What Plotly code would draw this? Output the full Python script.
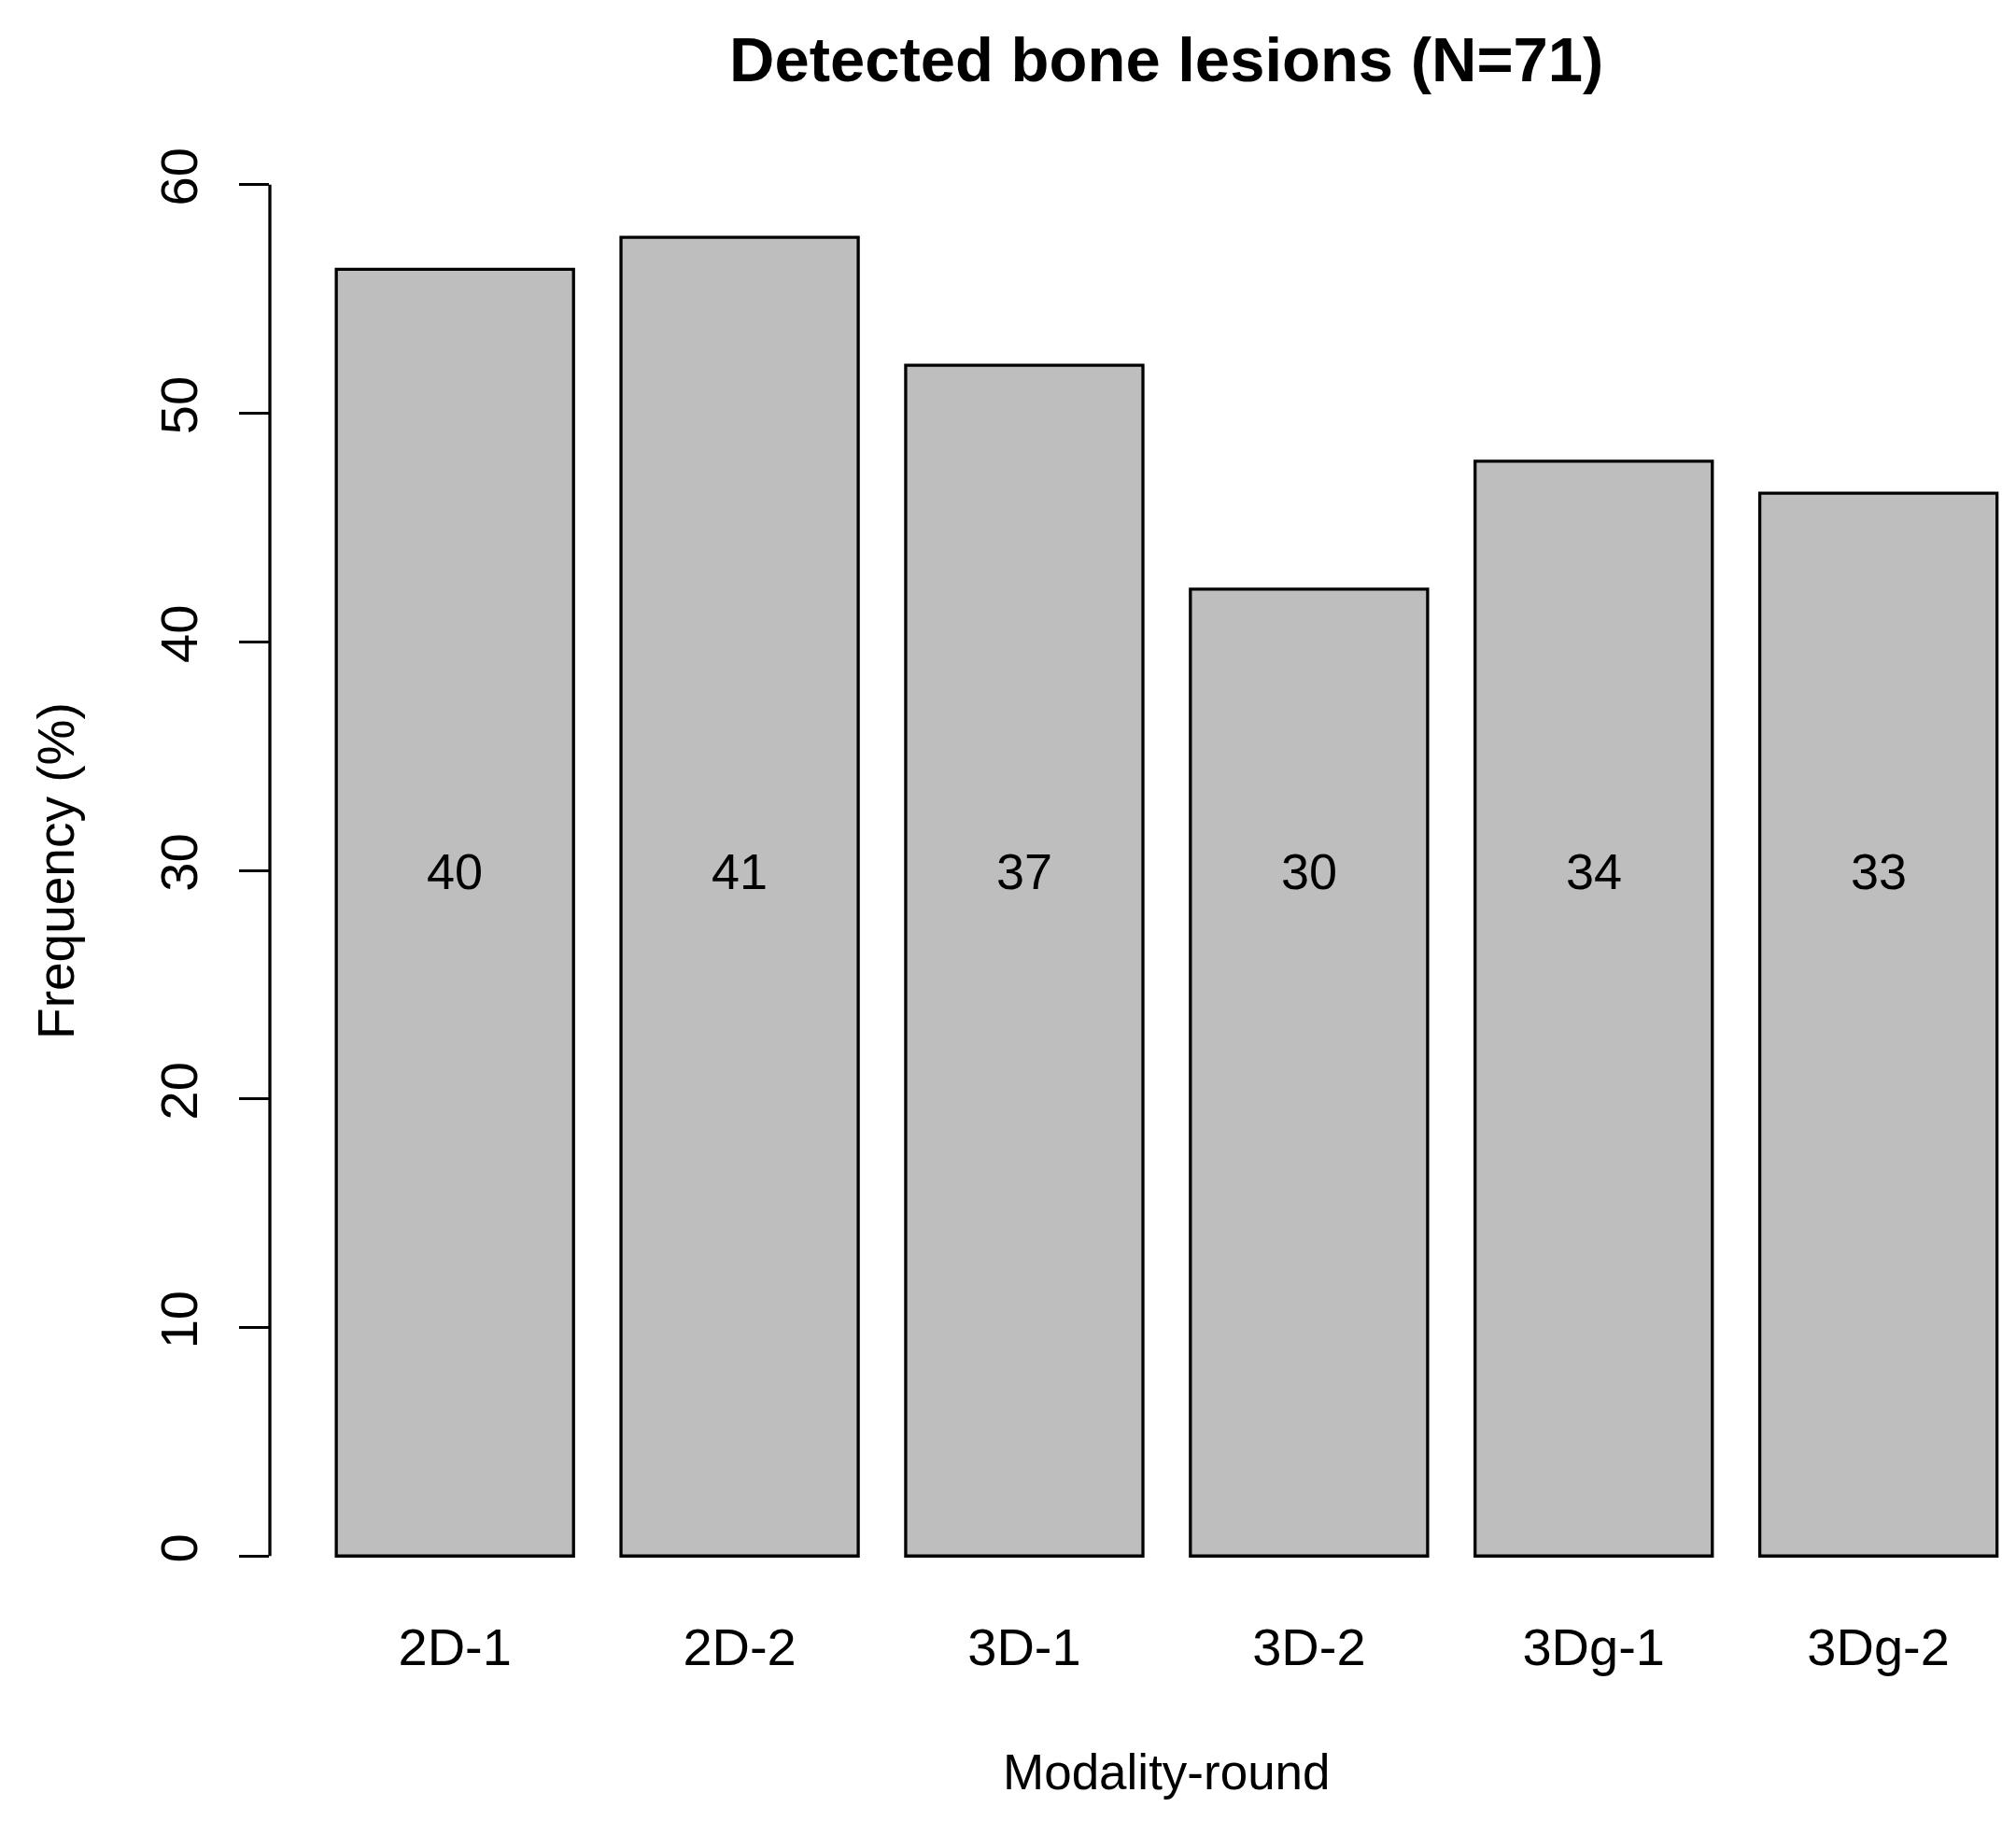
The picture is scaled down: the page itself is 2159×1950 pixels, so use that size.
import plotly.graph_objects as go

# ---- data ----
categories = ["2D-1", "2D-2", "3D-1", "3D-2", "3Dg-1", "3Dg-2"]
bar_centers = [0.7, 1.9, 3.1, 4.3, 5.5, 6.7]          # R barplot positions (width 1, space 0.2)
frequency_pct = [56.3, 57.7, 52.1, 42.3, 47.9, 46.5]  # bar heights (%)
counts = [40, 41, 37, 30, 34, 33]                     # labels printed inside bars
label_y = [30, 30, 30, 30, 30, 30]
y_ticks = [0, 10, 20, 30, 40, 50, 60]

FONT = "Liberation Sans, Arial, Helvetica, sans-serif"
LW = 3.3

fig = go.Figure()
fig.add_trace(go.Bar(
    x=bar_centers, y=frequency_pct, width=1,
    marker=dict(color="#BEBEBE", line=dict(color="black", width=LW)),
    showlegend=False, hoverinfo="skip",
))

annotations = [
    dict(text=str(c), xref="x", x=xc, yref="y", y=yv, yshift=-1,
         xanchor="center", yanchor="middle", showarrow=False,
         font=dict(size=54, family=FONT, color="black"))
    for xc, yv, c in zip(bar_centers, label_y, counts)
]
annotations += [
    dict(text="<b>Detected bone lesions (N=71)</b>", xref="x", x=3.7,
         yref="paper", y=1.0473, xanchor="center", yanchor="middle",
         showarrow=False, font=dict(size=67, family=FONT, color="black")),
    dict(text="Modality-round", xref="x", x=3.7,
         yref="paper", y=-0.109, xanchor="center", yanchor="middle",
         showarrow=False, font=dict(size=53, family=FONT, color="black")),
    dict(text="Frequency (%)", xref="paper", x=-0.1225,
         yref="y", y=30, xanchor="center", yanchor="middle", textangle=-90,
         showarrow=False, font=dict(size=55, family=FONT, color="black")),
]

fig.update_layout(
    width=2151, height=1942,
    margin=dict(l=281, r=0, t=131, b=225),
    paper_bgcolor="white", plot_bgcolor="white",
    font=dict(family=FONT, color="black"),
    xaxis=dict(
        range=[-0.08, 7.28], showgrid=False, zeroline=False, showline=False,
        tickmode="array", tickvals=bar_centers, ticktext=categories,
        ticks="", tickfont=dict(size=56, family=FONT, color="black"),
        ticklabelstandoff=1,
    ),
    yaxis=dict(
        range=[-2.4, 62.4], showgrid=False, zeroline=False, showline=False,
        tickmode="array", tickvals=y_ticks, ticks="outside", ticklen=32,
        tickwidth=LW, tickcolor="black", tickangle=-90,
        tickfont=dict(size=56, family=FONT, color="black"),
        ticklabelstandoff=23,
    ),
    shapes=[dict(type="line", xref="paper", x0=0, x1=0, yref="y",
                 y0=y_ticks[0], y1=y_ticks[-1],
                 line=dict(color="black", width=LW))],
    annotations=annotations,
)

fig.write_html("out.html")
